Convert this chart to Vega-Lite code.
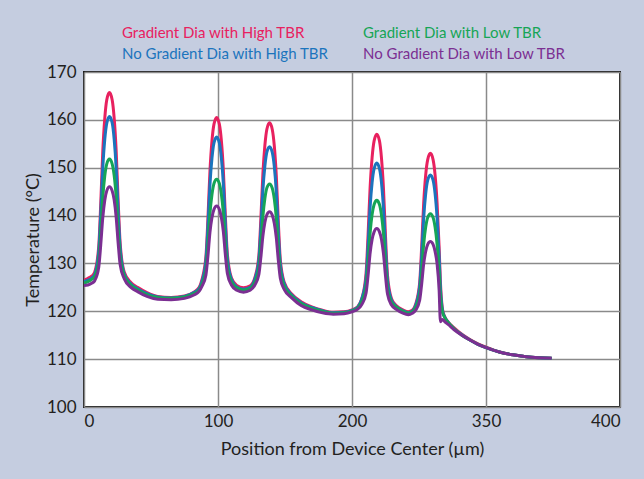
{
"$schema": "https://vega.github.io/schema/vega-lite/v6.json",
"width": 536, "height": 335,
"autosize": {"type": "none"},
"padding": {"left": 84, "top": 72, "right": 24, "bottom": 72},
"background": "#c5cde0",
"data": {"values": [
{"x":0,"GH":126.5,"NH":126.2,"GL":125.9,"NL":125.4},
{"x":3,"GH":126.9,"NH":126.5,"GL":126.2,"NL":125.5},
{"x":6,"GH":127.4,"NH":127.0,"GL":126.7,"NL":125.9},
{"x":8,"GH":128.2,"NH":127.7,"GL":127.3,"NL":126.4},
{"x":11,"GH":133.6,"NH":132.5,"GL":130.8,"NL":129.2},
{"x":12.5,"GH":142.5,"NH":140.3,"GL":136.6,"NL":133.9},
{"x":14,"GH":153.3,"NH":149.8,"GL":143.7,"NL":139.5},
{"x":15.5,"GH":160.3,"NH":155.9,"GL":148.3,"NL":143.2},
{"x":17,"GH":164.2,"NH":159.3,"GL":150.8,"NL":145.2},
{"x":19,"GH":165.7,"NH":160.7,"GL":151.8,"NL":146.0},
{"x":21,"GH":164.2,"NH":159.4,"GL":150.8,"NL":145.2},
{"x":22.5,"GH":160.4,"NH":156.0,"GL":148.4,"NL":143.3},
{"x":24,"GH":153.6,"NH":150.0,"GL":143.9,"NL":139.7},
{"x":25.5,"GH":143.0,"NH":140.7,"GL":137.0,"NL":134.2},
{"x":27,"GH":134.2,"NH":133.1,"GL":131.4,"NL":129.7},
{"x":30,"GH":128.2,"NH":127.8,"GL":127.5,"NL":126.8},
{"x":35,"GH":126.0,"NH":125.7,"GL":125.5,"NL":125.0},
{"x":40,"GH":125.0,"NH":124.7,"GL":124.5,"NL":124.1},
{"x":47,"GH":123.9,"NH":123.7,"GL":123.5,"NL":123.1},
{"x":55,"GH":123.1,"NH":123.0,"GL":122.9,"NL":122.5},
{"x":65,"GH":122.9,"NH":122.8,"GL":122.7,"NL":122.4},
{"x":75,"GH":123.2,"NH":123.1,"GL":123.0,"NL":122.7},
{"x":82,"GH":124.0,"NH":123.9,"GL":123.7,"NL":123.4},
{"x":86,"GH":125.0,"NH":124.8,"GL":124.5,"NL":124.2},
{"x":88,"GH":126.6,"NH":126.2,"GL":125.7,"NL":125.2},
{"x":91,"GH":131.5,"NH":130.6,"GL":128.8,"NL":127.6},
{"x":92.5,"GH":139.5,"NH":137.7,"GL":134.0,"NL":131.6},
{"x":94,"GH":149.3,"NH":146.5,"GL":140.4,"NL":136.5},
{"x":95.5,"GH":155.6,"NH":152.0,"GL":144.4,"NL":139.6},
{"x":97,"GH":159.1,"NH":155.2,"GL":146.7,"NL":141.3},
{"x":99,"GH":160.5,"NH":156.4,"GL":147.6,"NL":142.0},
{"x":101,"GH":159.1,"NH":155.2,"GL":146.7,"NL":141.3},
{"x":102.5,"GH":155.7,"NH":152.1,"GL":144.5,"NL":139.6},
{"x":104,"GH":149.5,"NH":146.6,"GL":140.5,"NL":136.6},
{"x":105.5,"GH":139.8,"NH":138.0,"GL":134.3,"NL":131.8},
{"x":107,"GH":131.9,"NH":131.0,"GL":129.3,"NL":127.9},
{"x":110,"GH":127.0,"NH":126.7,"GL":126.2,"NL":125.5},
{"x":114,"GH":125.4,"NH":125.1,"GL":124.9,"NL":124.4},
{"x":119,"GH":124.9,"NH":124.6,"GL":124.4,"NL":124.0},
{"x":124,"GH":125.3,"NH":125.0,"GL":124.8,"NL":124.4},
{"x":127.5,"GH":127.0,"NH":126.7,"GL":126.1,"NL":125.5},
{"x":130.5,"GH":131.7,"NH":130.7,"GL":129.1,"NL":127.7},
{"x":132,"GH":139.4,"NH":137.2,"GL":134.0,"NL":131.3},
{"x":133.5,"GH":148.7,"NH":145.3,"GL":139.8,"NL":135.7},
{"x":135,"GH":154.7,"NH":150.4,"GL":143.6,"NL":138.6},
{"x":136.5,"GH":158.1,"NH":153.3,"GL":145.8,"NL":140.2},
{"x":138.5,"GH":159.4,"NH":154.4,"GL":146.6,"NL":140.8},
{"x":140.5,"GH":158.0,"NH":153.2,"GL":145.7,"NL":140.1},
{"x":142,"GH":154.6,"NH":150.3,"GL":143.5,"NL":138.4},
{"x":143.5,"GH":148.4,"NH":145.0,"GL":139.5,"NL":135.4},
{"x":145,"GH":138.8,"NH":136.6,"GL":133.3,"NL":130.7},
{"x":146.5,"GH":130.8,"NH":129.8,"GL":128.3,"NL":126.9},
{"x":149.5,"GH":126.0,"NH":125.7,"GL":125.2,"NL":124.5},
{"x":155,"GH":123.6,"NH":123.4,"GL":123.2,"NL":122.8},
{"x":162,"GH":122.0,"NH":121.8,"GL":121.6,"NL":121.2},
{"x":170,"GH":120.9,"NH":120.8,"GL":120.6,"NL":120.3},
{"x":178,"GH":120.2,"NH":120.1,"GL":120.0,"NL":119.7},
{"x":186,"GH":119.8,"NH":119.7,"GL":119.6,"NL":119.4},
{"x":194,"GH":119.9,"NH":119.8,"GL":119.7,"NL":119.5},
{"x":200,"GH":120.3,"NH":120.2,"GL":120.1,"NL":119.9},
{"x":204,"GH":120.9,"NH":120.8,"GL":120.6,"NL":120.4},
{"x":207.5,"GH":122.8,"NH":122.8,"GL":122.2,"NL":121.5},
{"x":210.5,"GH":128.0,"NH":126.8,"GL":125.3,"NL":123.8},
{"x":212,"GH":136.0,"NH":133.5,"GL":130.2,"NL":127.5},
{"x":213.5,"GH":145.8,"NH":141.7,"GL":136.3,"NL":132.1},
{"x":215,"GH":152.1,"NH":146.9,"GL":140.2,"NL":135.0},
{"x":216.5,"GH":155.6,"NH":149.8,"GL":142.3,"NL":136.6},
{"x":218.5,"GH":157.0,"NH":151.0,"GL":143.2,"NL":137.3},
{"x":220.5,"GH":155.6,"NH":149.8,"GL":142.3,"NL":136.6},
{"x":222,"GH":152.0,"NH":146.9,"GL":140.1,"NL":135.0},
{"x":223.5,"GH":145.6,"NH":141.5,"GL":136.2,"NL":132.0},
{"x":225,"GH":135.7,"NH":133.2,"GL":130.0,"NL":127.4},
{"x":226.5,"GH":127.5,"NH":126.4,"GL":124.9,"NL":123.6},
{"x":229.5,"GH":122.6,"NH":122.3,"GL":121.9,"NL":121.3},
{"x":233,"GH":121.2,"NH":121.0,"GL":120.9,"NL":120.4},
{"x":238,"GH":120.3,"NH":120.1,"GL":120.0,"NL":119.6},
{"x":242,"GH":119.9,"NH":119.7,"GL":119.6,"NL":119.3},
{"x":245,"GH":120.2,"NH":120.0,"GL":119.9,"NL":119.6},
{"x":247.5,"GH":121.5,"NH":121.2,"GL":120.8,"NL":120.2},
{"x":250.5,"GH":126.0,"NH":125.2,"GL":123.6,"NL":122.3},
{"x":252,"GH":133.5,"NH":131.6,"GL":128.3,"NL":125.7},
{"x":253.5,"GH":142.6,"NH":139.5,"GL":134.0,"NL":129.9},
{"x":255,"GH":148.5,"NH":144.6,"GL":137.6,"NL":132.5},
{"x":256.5,"GH":151.7,"NH":147.4,"GL":139.6,"NL":134.0},
{"x":258.5,"GH":153.0,"NH":148.5,"GL":140.4,"NL":134.6},
{"x":260.5,"GH":151.7,"NH":147.4,"GL":139.6,"NL":134.0},
{"x":262,"GH":148.5,"NH":144.6,"GL":137.6,"NL":132.5},
{"x":263.5,"GH":142.6,"NH":139.5,"GL":134.0,"NL":129.9},
{"x":265,"GH":133.5,"NH":131.6,"GL":128.3,"NL":124.5},
{"x":266,"GH":126.0,"NH":124.8,"GL":123.0,"NL":117.8},
{"x":267.5,"GH":120.5,"NH":120.2,"GL":119.8,"NL":118.3},
{"x":269,"GH":119.0,"NH":118.9,"GL":118.8,"NL":117.9},
{"x":272,"GH":117.7,"NH":117.6,"GL":117.6,"NL":117.2},
{"x":276,"GH":116.6,"NH":116.4,"GL":116.4,"NL":116.2},
{"x":282,"GH":115.2,"NH":115.1,"GL":115.0,"NL":115.0},
{"x":288,"GH":114.1,"NH":114.0,"GL":114.0,"NL":114.0},
{"x":294,"GH":113.2,"NH":113.1,"GL":113.1,"NL":113.1},
{"x":300,"GH":112.5,"NH":112.4,"GL":112.4,"NL":112.4},
{"x":310,"GH":111.5,"NH":111.5,"GL":111.5,"NL":111.5},
{"x":320,"GH":110.9,"NH":110.9,"GL":110.9,"NL":110.9},
{"x":330,"GH":110.5,"NH":110.5,"GL":110.5,"NL":110.5},
{"x":340,"GH":110.3,"NH":110.3,"GL":110.3,"NL":110.3},
{"x":349,"GH":110.2,"NH":110.2,"GL":110.2,"NL":110.2}
]},
"transform": [{"fold": ["GH", "NH", "GL", "NL"], "as": ["series", "t"]}],
"mark": {"type": "line", "interpolate": "monotone", "strokeWidth": 3, "clip": true},
"encoding": {
  "x": {"field": "x", "type": "quantitative", "scale": {"domain": [0, 400], "nice": false},
        "axis": {"values": [0, 100, 200, 300, 400], "labelExpr": "datum.value == 300 ? '350' : datum.label",
                 "title": "Position from Device Center (µm)", "labelPadding": 6, "titlePadding": 11}},
  "y": {"field": "t", "type": "quantitative", "scale": {"domain": [100, 170], "nice": false},
        "axis": {"values": [100, 110, 120, 130, 140, 150, 160, 170], "title": "Temperature (°C)",
                 "labelPadding": 8, "titlePadding": 4}},
  "color": {"field": "series", "type": "nominal",
            "scale": {"domain": ["GH", "NH", "GL", "NL"], "range": ["#e8215f", "#1b74bd", "#16a556", "#7b2f92"]},
            "legend": {"orient": "none", "legendX": 23, "legendY": -47, "columns": 2, "title": null,
                       "symbolSize": 0, "symbolStrokeWidth": 0, "symbolOpacity": 0, "labelOffset": 0,
                       "labelFontSize": 15, "labelFont": "Lato", "labelLimit": 400, "columnPadding": 19, "rowPadding": 5,
                       "labelExpr": "datum.label == 'GH' ? 'Gradient Dia with High TBR' : datum.label == 'GL' ? 'Gradient Dia with Low TBR' : datum.label == 'NH' ? 'No Gradient Dia with High TBR' : 'No Gradient Dia with Low TBR'",
                       "encode": {"labels": {"update": {"fill": {"scale": "color", "field": "value"}}}}}}
},
"config": {
  "view": {"fill": "white", "stroke": "#1a1a1a", "strokeWidth": 2},
  "axis": {"domain": false, "ticks": false, "grid": true, "gridColor": "#8a8a8a", "gridWidth": 1.5,
           "labelFont": "Lato", "labelFontSize": 17, "labelColor": "#231f20",
           "titleFont": "Lato", "titleFontSize": 18, "titleFontWeight": "normal", "titleColor": "#231f20"}
}
}
